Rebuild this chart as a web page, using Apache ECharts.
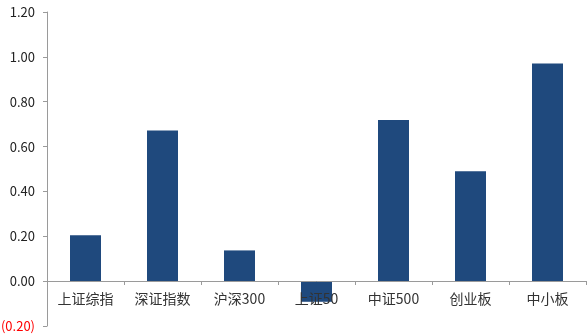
<!DOCTYPE html>
<html lang="zh">
<head>
    <meta charset="UTF-8">
    <title>指数涨跌</title>
    <script src="https://cdn.jsdelivr.net/npm/echarts@6/dist/echarts.min.js"></script>
    <style>
        html, body { margin: 0; padding: 0; background: #fff; }
        #main { width: 587px; height: 336px; }
    </style>
</head>
<body>
<div id="main"></div>
<script>
    // 数据
    var categories = ['上证综指', '深证指数', '沪深300', '上证50', '中证500', '创业板', '中小板'];
    var values = [0.205, 0.672, 0.137, -0.092, 0.719, 0.490, 0.970];

    var myChart = echarts.init(document.getElementById('main'));
    var font = '"Noto Sans CJK SC", "Liberation Sans", sans-serif';

    var option = {
        animation: false,
        grid: { left: 47, right: 1, top: 12, bottom: 10, containLabel: false, outerBoundsMode: 'none' },
        xAxis: {
            type: 'category',
            data: categories,
            z: 5,
            // 轴放在0的位置（y轴 -0.2 到 0 约 45px）
            offset: -45,
            axisLine: { onZero: false, lineStyle: { color: '#9a9a9a', width: 1 } },
            axisTick: { show: true, length: 4, lineStyle: { color: '#9a9a9a' } },
            axisLabel: { color: '#333', fontSize: 14, fontFamily: font, margin: 11 }
        },
        yAxis: {
            type: 'value',
            min: -0.2,
            max: 1.2,
            interval: 0.2,
            splitLine: { show: false },
            axisLine: { show: true, lineStyle: { color: '#9a9a9a' } },
            axisTick: { show: true, length: 4, lineStyle: { color: '#9a9a9a' } },
            axisLabel: {
                fontSize: 13,
                fontFamily: font,
                margin: 12,
                color: function (v) { return v < 0 ? '#ff0000' : '#222'; },
                formatter: function (v) {
                    var s = Math.abs(v).toFixed(2);
                    return v < -1e-9 ? '(' + s + ')' : s;
                }
            }
        },
        series: [{
            type: 'bar',
            data: values,
            barWidth: 31,
            itemStyle: { color: '#1f497d' }
        }]
    };
    myChart.setOption(option);
</script>
</body>
</html>
